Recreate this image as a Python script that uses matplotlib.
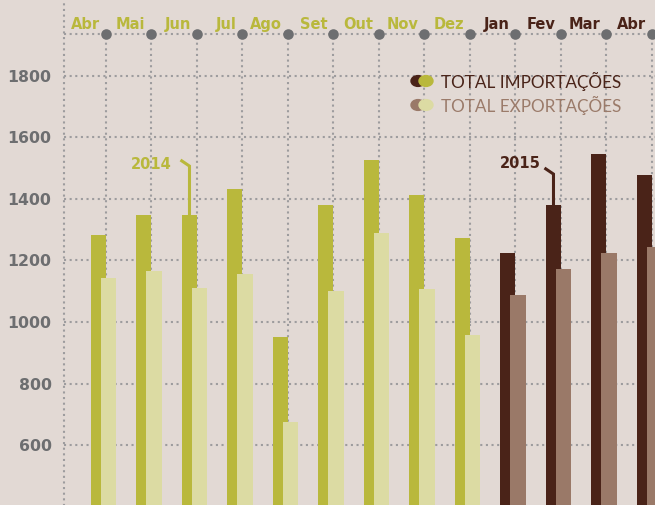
import matplotlib.pyplot as plt

# dados (milhões)
months = ['Abr', 'Mai', 'Jun', 'Jul', 'Ago', 'Set', 'Out', 'Nov', 'Dez',
          'Jan', 'Fev', 'Mar', 'Abr']
years = [2014] * 9 + [2015] * 4
importacoes = [1283, 1348, 1348, 1432, 951, 1380, 1527, 1413, 1273,
               1224, 1380, 1546, 1478]
exportacoes = [1144, 1166, 1111, 1156, 675, 1101, 1289, 1107, 958,
               1088, 1172, 1224, 1244]
y_ticks = [400, 600, 800, 1000, 1200, 1400, 1600, 1800]

bg = '#e2d9d4'
grid_c = '#9d9c9e'
axis_c = '#6d6e70'
imp_c = {2014: '#b9b83c', 2015: '#4a2318'}
exp_c = {2014: '#dcdba3', 2015: '#9a7968'}
dots = (0, (1, 1.7))

plt.rcParams['font.family'] = ['DejaVu Sans']

fig = plt.figure(figsize=(6.55, 5.05), dpi=100, facecolor=bg)
ax = fig.add_axes([64 / 655, 0, 1 - 64 / 655, 1])
ax.set_facecolor(bg)
top = 1937
ax.set_xlim(-0.423, 12.566)
ax.set_ylim(405, 2047)

n = len(months)
# grelha
for v in y_ticks:
    ax.plot([-0.423, 12.566], [v, v], color=grid_c, lw=1.5, ls=dots, zorder=1)
for i in range(n):
    ax.plot([i + 0.5, i + 0.5], [0, top], color=grid_c, lw=1.5, ls=dots, zorder=1)
ax.plot([-0.423, -0.423], [0, 2100], color=grid_c, lw=1.5, ls=dots, zorder=1, clip_on=False)
ax.plot([-0.423, 12.566], [top, top], color=grid_c, lw=1.5, ls=dots, zorder=1)
ax.scatter([i + 0.5 for i in range(n)], [top] * n, s=58, color=axis_c, zorder=3,
           clip_on=False, linewidths=0)

# barras
for i in range(n):
    ax.bar(i + 0.17, importacoes[i], width=0.33, align='edge',
           color=imp_c[years[i]], zorder=2)
    ax.bar(i + 0.39, exportacoes[i], width=0.33, align='edge',
           color=exp_c[years[i]], zorder=2.5)
    ax.text(i + 0.37, 1953, months[i], ha='right', va='baseline', fontsize=10.5,
            fontweight='bold', color=imp_c[years[i]])

ax.set_yticks([v for v in y_ticks if v >= 600])
ax.set_yticklabels([str(v) for v in y_ticks if v >= 600])
ax.tick_params(axis='y', length=0, pad=9, labelsize=11.3, labelcolor=axis_c)
for lab in ax.get_yticklabels():
    lab.set_fontweight('bold')
ax.set_xticks([])
for s in ax.spines.values():
    s.set_visible(False)

# anotações dos anos
for idx, label, dx, dy_txt in [(2, '2014', -0.385, 1497), (10, '2015', -0.275, 1501)]:
    xc = idx + 0.335
    ytop = importacoes[idx]
    c = imp_c[years[idx]]
    bend = 1507 if idx == 2 else 1481
    ax.plot([xc - 0.17, xc, xc], [bend + 17, bend, ytop], color=c, lw=2.2,
            zorder=3, solid_joinstyle='miter')
    ax.text(xc + dx, dy_txt, label, ha='right', va='baseline', fontsize=10.5,
            fontweight='bold', color=c)

# legenda
def px(x, y):
    return x / 655, 1 - y / 505

for yy, c1, c2, txt, tc in [(81, '#4a2318', '#b9b83c', 'TOTAL IMPORTAÇÕES', '#4a2419'),
                            (105, '#9a7968', '#dcdba3', 'TOTAL EXPORTAÇÕES', '#9b7b6a')]:
    for xx, c in [(418, c1), (426, c2)]:
        fx, fy = px(xx, yy)
        fig.patches.append(plt.Circle((fx, fy), 7 / 655, transform=fig.transFigure,
                                      color=c, zorder=5))
    fx, fy = px(441, yy + 7)
    fig.text(fx, fy, txt, ha='left', va='baseline', fontsize=12.3, color=tc,
             family=['Lato', 'DejaVu Sans'])

fig.savefig('out.png', dpi=100, facecolor=bg)
